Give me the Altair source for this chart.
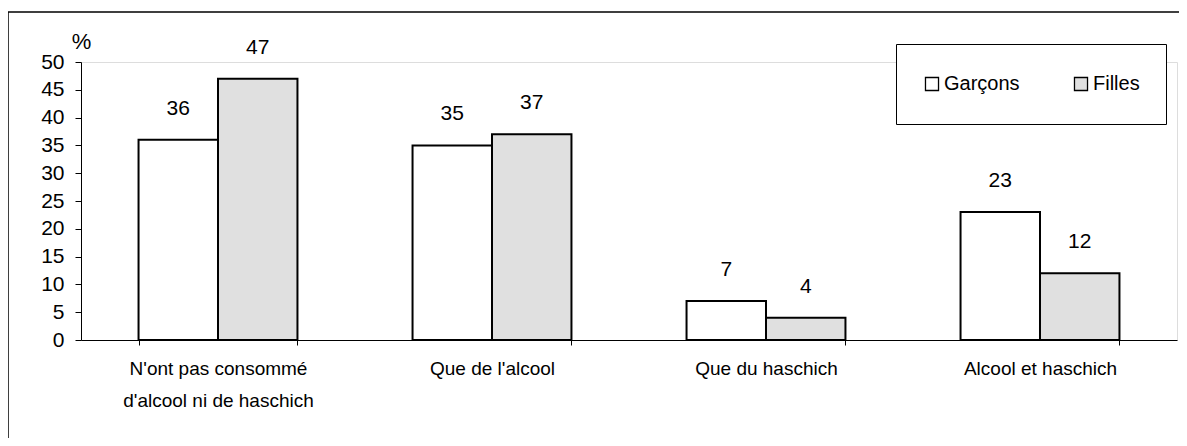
import altair as alt
import pandas as pd

categories = [
    "N'ont pas consommé\nd'alcool ni de haschich",
    "Que de l'alcool",
    "Que du haschich",
    "Alcool et haschich",
]
groups = ["Garçons", "Filles"]
garcons = [36, 35, 7, 23]
filles = [47, 37, 4, 12]
y_ticks = [0, 5, 10, 15, 20, 25, 30, 35, 40, 45, 50]
colors = ["#ffffff", "#e0e0e0"]

rows = []
for c, g, f in zip(categories, garcons, filles):
    rows.append({"cat": c, "sexe": "Garçons", "val": g})
    rows.append({"cat": c, "sexe": "Filles", "val": f})
df = pd.DataFrame(rows)

FONT = "Liberation Sans"
W, H = 1096, 278

x_enc = alt.X(
    "cat:N",
    sort=categories,
    scale=alt.Scale(paddingInner=0.42, paddingOuter=0.21),
    axis=alt.Axis(
        title=None,
        labelAngle=0,
        labelExpr="split(datum.label, '\\n')",
        labelLimit=400,
        tickBand="extent",
        domainColor="black",
        tickColor="black",
        tickSize=5,
        labelFont=FONT,
        labelFontSize=19,
        labelColor="black",
        labelLineHeight=32,
        labelPadding=14,
    ),
)
xoff_enc = alt.XOffset("sexe:N", sort=groups, scale=alt.Scale(paddingInner=0, paddingOuter=0))
y_enc = alt.Y(
    "val:Q",
    scale=alt.Scale(domain=[0, 50], nice=False),
    axis=alt.Axis(
        values=y_ticks,
        grid=False,
        title="%",
        titleAngle=0,
        titleX=0,
        titleY=-21,
        titleAlign="center",
        titleBaseline="middle",
        titleFont=FONT,
        titleFontSize=22,
        titleFontWeight="normal",
        titleColor="black",
        domainColor="black",
        tickColor="black",
        tickSize=6,
        labelFont=FONT,
        labelFontSize=21,
        labelColor="black",
        labelPadding=11,
    ),
)

base = alt.Chart(df)

bars = base.mark_bar(stroke="black", strokeWidth=2).encode(
    x=x_enc,
    xOffset=xoff_enc,
    y=y_enc,
    color=alt.Color(
        "sexe:N",
        sort=groups,
        scale=alt.Scale(domain=groups, range=colors),
        legend=alt.Legend(
            title=None,
            orient="none",
            legendX=815,
            legendY=-18,
            direction="horizontal",
            columns=2,
            symbolType="square",
            symbolSize=170,
            symbolStrokeColor="black",
            symbolStrokeWidth=1.3,
            labelFont=FONT,
            labelFontSize=20,
            labelColor="black",
            labelOffset=2,
            strokeColor="black",
            fillColor="white",
            padding=26,
            clipHeight=28,
            columnPadding=51,
        ),
    ),
)

labels = base.mark_text(
    dy=-31, baseline="middle", fontSize=21, font=FONT, color="black"
).encode(x=x_enc, xOffset=xoff_enc, y=y_enc, text=alt.Text("val:Q"))

frame = alt.Chart(pd.DataFrame({"a": [0]})).mark_rect(
    fillOpacity=0, stroke="black", strokeWidth=1.5
).encode(
    x=alt.value(-73),
    x2=alt.value(W + 200),
    y=alt.value(-50),
    y2=alt.value(H + 300),
)

chart = (
    alt.layer(frame, bars, labels)
    .properties(
        width=W,
        height=H,
        autosize=alt.AutoSizeParams(type="none"),
        padding={"left": 73, "top": 54, "right": 2, "bottom": 98},
    )
    .configure_view(stroke=None)
    .configure(font=FONT)
)

chart.save("out.html", embed_options={"renderer": "svg", "actions": False})
